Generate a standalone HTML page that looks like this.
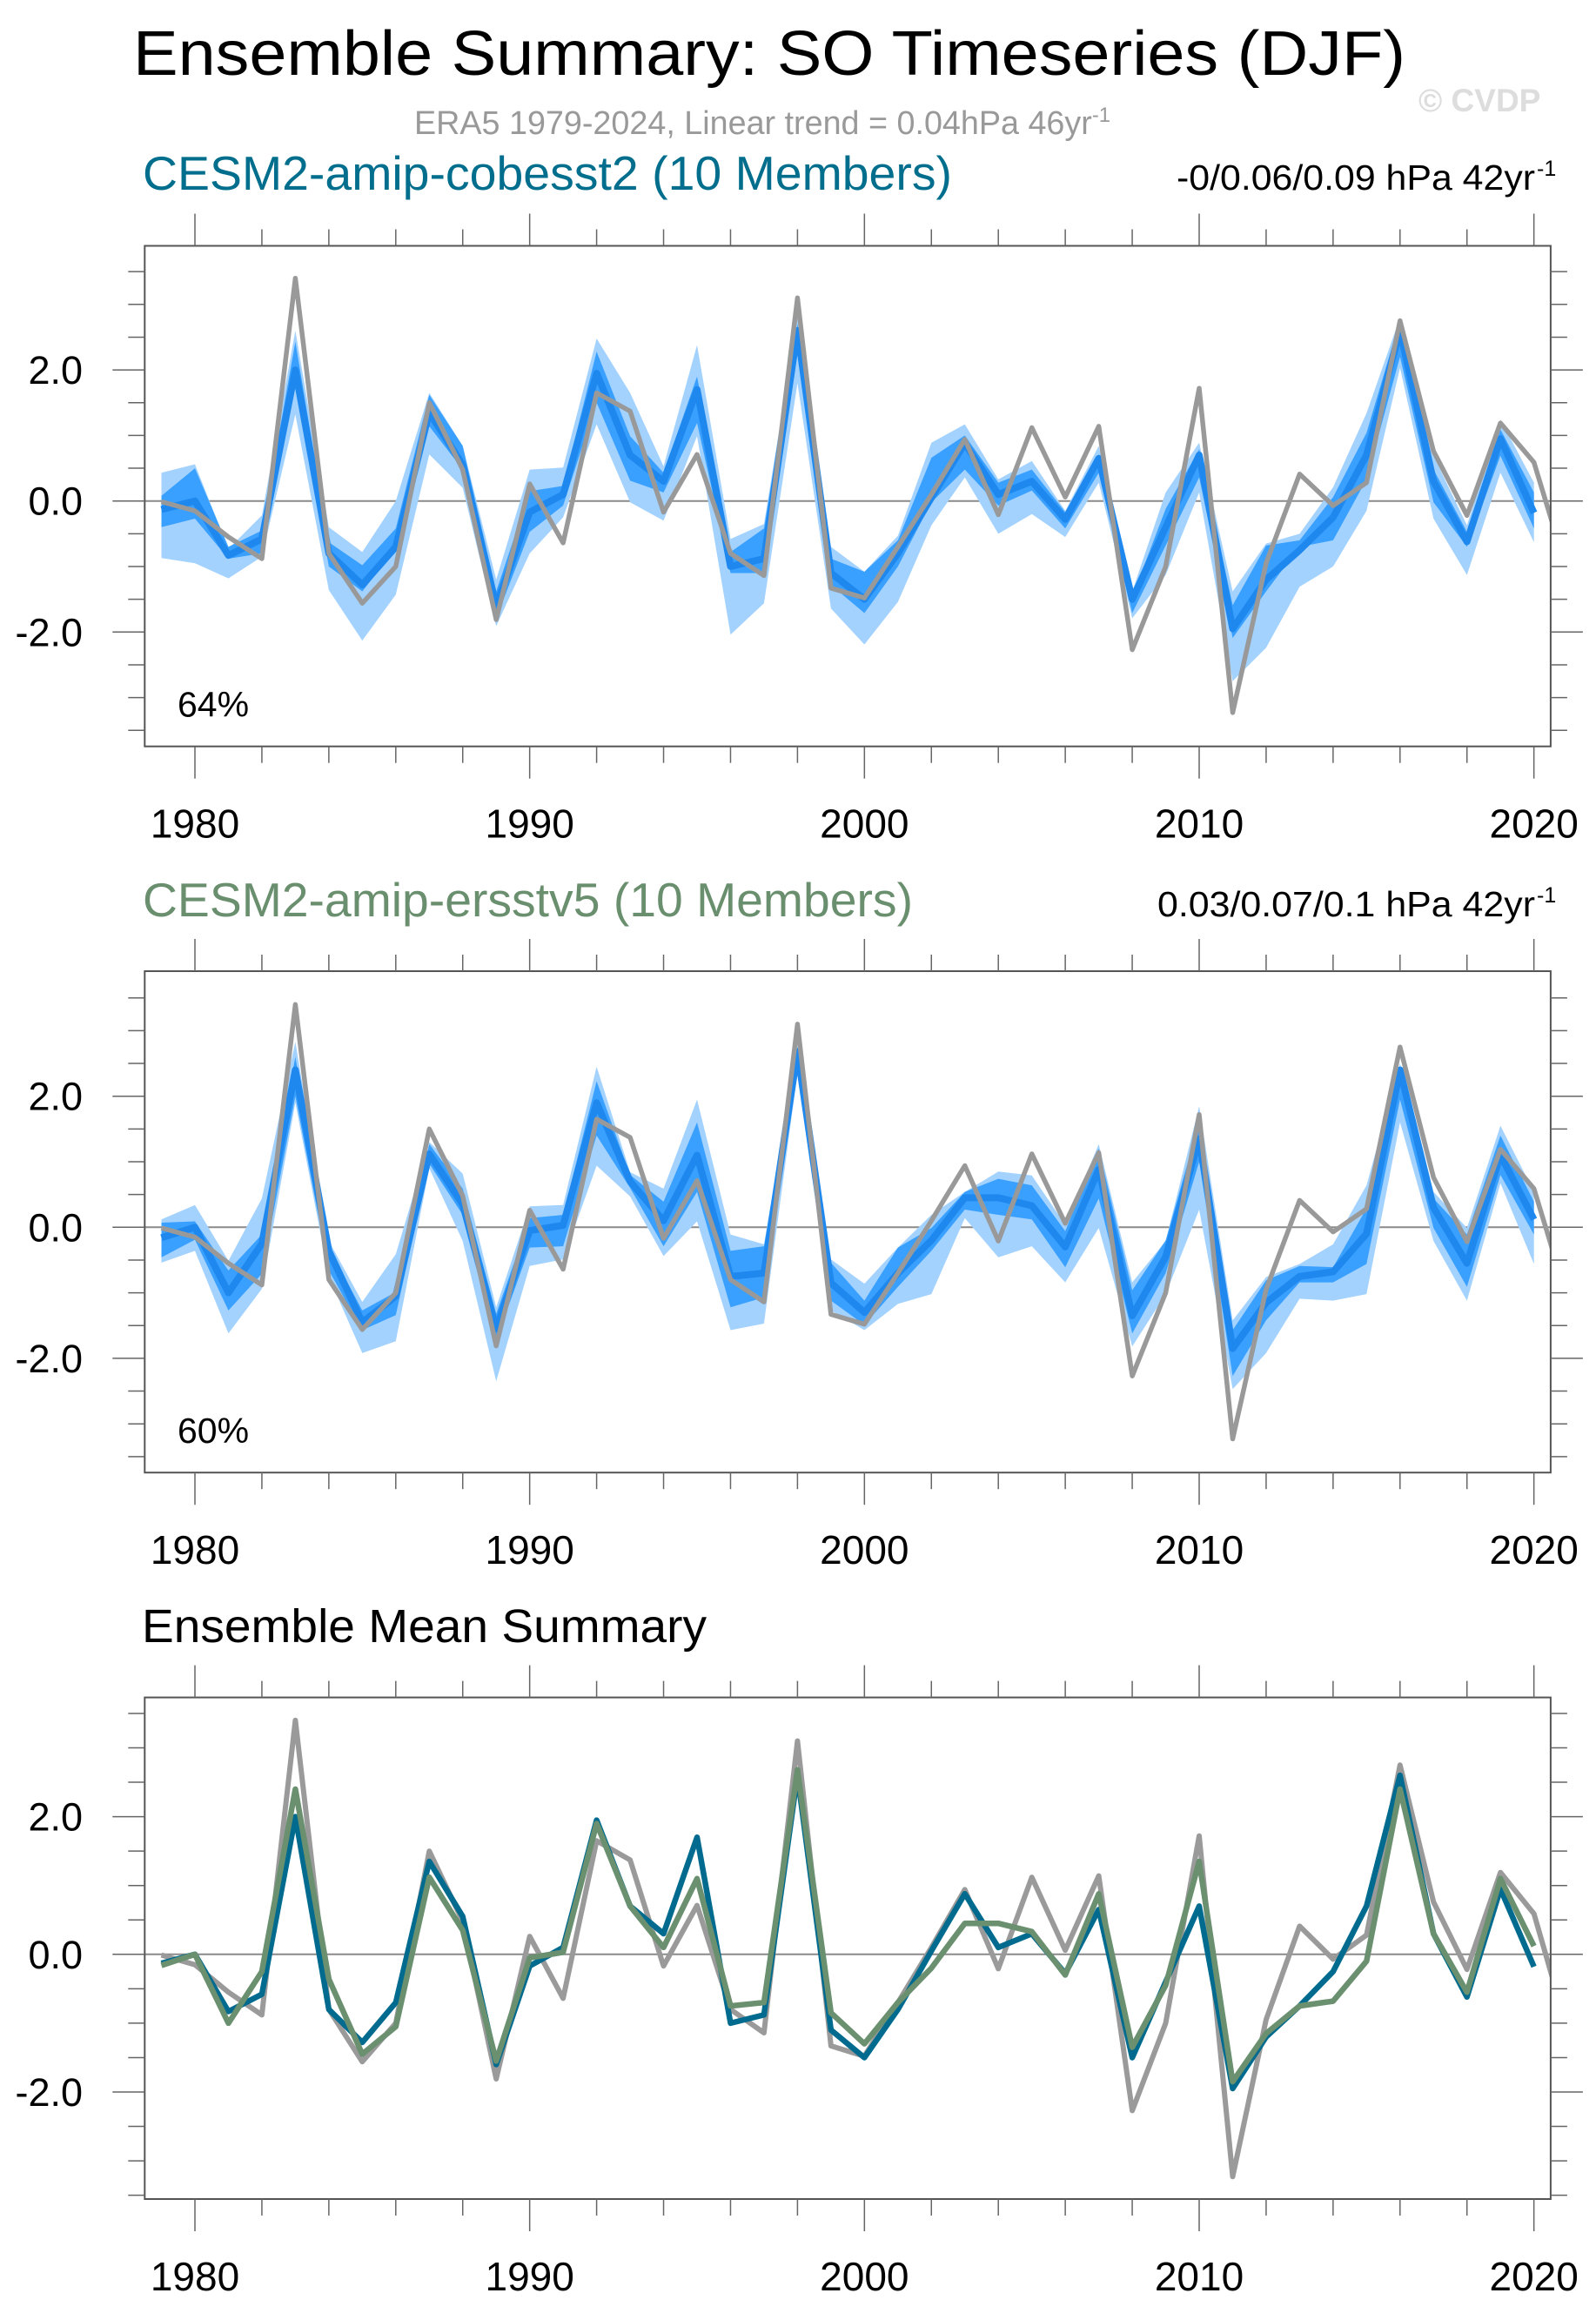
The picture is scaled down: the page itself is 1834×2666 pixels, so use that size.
<!DOCTYPE html>
<html><head><meta charset="utf-8"><style>
html,body{margin:0;padding:0;background:#fff}
svg{display:block}
text{font-family:"Liberation Sans",Arial,sans-serif}
</style></head><body>
<svg id="chart" width="1834" height="2666" viewBox="0 0 1834 2666" xmlns="http://www.w3.org/2000/svg">
<rect width="1834" height="2666" fill="#fff"/>
<text x="153" y="86" font-size="72" textLength="1462" lengthAdjust="spacingAndGlyphs">Ensemble Summary: SO Timeseries (DJF)</text>
<text x="476" y="154" font-size="38" fill="#999" textLength="800" lengthAdjust="spacingAndGlyphs">ERA5 1979-2024, Linear trend = 0.04hPa 46yr<tspan dy="-14" font-size="24">-1</tspan></text>
<text x="1630" y="128" font-size="37" font-weight="bold" fill="#ddd">© CVDP</text>

<text x="164" y="218" font-size="55" fill="#006e8c" textLength="930" lengthAdjust="spacingAndGlyphs">CESM2-amip-cobesst2 (10 Members)</text>
<text x="1352" y="218" font-size="41" textLength="412" lengthAdjust="spacingAndGlyphs">-0/0.06/0.09 hPa 42yr</text>
<text x="1766" y="202" font-size="25">-1</text>

<text x="164" y="1053" font-size="55" fill="#6a8f6e" textLength="885" lengthAdjust="spacingAndGlyphs">CESM2-amip-ersstv5 (10 Members)</text>
<text x="1330" y="1053" font-size="41" textLength="434" lengthAdjust="spacingAndGlyphs">0.03/0.07/0.1 hPa 42yr</text>
<text x="1766" y="1037" font-size="25">-1</text>

<text x="163" y="1887" font-size="54" textLength="649" lengthAdjust="spacingAndGlyphs">Ensemble Mean Summary</text>
<g id="plots"></g>
</svg>
<script>
const years = [1979,1980,1981,1982,1983,1984,1985,1986,1987,1988,1989,1990,1991,1992,1993,1994,1995,1996,1997,1998,1999,2000,2001,2002,2003,2004,2005,2006,2007,2008,2009,2010,2011,2012,2013,2014,2015,2016,2017,2018,2019,2020];
const eraYears = [1979,1980,1981,1982,1983,1984,1985,1986,1987,1988,1989,1990,1991,1992,1993,1994,1995,1996,1997,1998,1999,2000,2001,2002,2003,2004,2005,2006,2007,2008,2009,2010,2011,2012,2013,2014,2015,2016,2017,2018,2019,2020,2021];
const era5 = [-0.01,-0.15,-0.55,-0.88,3.4,-0.8,-1.56,-1.0,1.5,0.48,-1.81,0.26,-0.64,1.65,1.37,-0.17,0.71,-0.8,-1.14,3.1,-1.33,-1.48,-0.7,0.1,0.94,-0.21,1.12,0.06,1.14,-2.27,-1.0,1.72,-3.23,-0.95,0.41,-0.07,0.28,2.75,0.76,-0.22,1.19,0.59,-1.09];

const cobMean = [-0.13,0.0,-0.83,-0.58,2.0,-0.8,-1.28,-0.7,1.35,0.55,-1.6,-0.17,0.1,1.95,0.7,0.3,1.7,-1.0,-0.88,2.6,-1.1,-1.5,-0.8,0.05,0.88,0.1,0.3,-0.28,0.65,-1.5,-0.4,0.7,-1.95,-1.2,-0.75,-0.25,0.7,2.6,0.3,-0.62,0.95,-0.18];
const cobOutHi = [0.43,0.56,-0.73,-0.22,2.6,-0.4,-0.78,0.0,1.65,0.84,-1.2,0.48,0.51,2.48,1.65,0.53,2.38,-0.58,-0.35,2.8,-0.7,-1.08,-0.53,0.89,1.17,0.33,0.61,-0.15,0.84,-1.38,0.13,0.89,-1.38,-0.65,-0.5,0.21,1.34,2.8,0.69,-0.37,1.24,0.28];
const cobOutLo = [-0.87,-0.95,-1.18,-0.85,1.32,-1.36,-2.13,-1.43,0.71,0.2,-1.91,-0.8,-0.25,1.17,-0.02,-0.3,0.99,-2.04,-1.56,1.8,-1.64,-2.19,-1.54,-0.37,0.36,-0.5,-0.2,-0.55,0.28,-1.79,-1.13,0.13,-2.75,-2.24,-1.31,-1.0,-0.15,2.03,-0.27,-1.13,0.43,-0.63];
const cobInHi = [0.08,0.5,-0.7,-0.45,2.43,-0.63,-0.98,-0.42,1.62,0.84,-1.38,0.15,0.23,2.28,0.99,0.43,1.9,-0.78,-0.42,2.7,-0.88,-1.08,-0.6,0.66,1.0,0.28,0.48,-0.17,0.69,-1.46,-0.12,0.79,-1.59,-0.68,-0.6,0.06,1.04,2.76,0.48,-0.47,1.09,0.13];
const cobInLo = [-0.4,-0.27,-0.88,-0.8,1.8,-1.0,-1.38,-0.73,1.14,0.48,-1.79,-0.47,-0.07,1.5,0.31,0.13,1.19,-1.1,-1.1,2.3,-1.28,-1.71,-1.0,-0.02,0.48,-0.07,0.16,-0.42,0.43,-1.71,-0.68,0.36,-2.09,-1.38,-0.7,-0.6,0.33,2.2,-0.02,-0.7,0.69,-0.42];

const ersMean = [-0.16,0.0,-1.0,-0.25,2.4,-0.36,-1.45,-1.05,1.12,0.35,-1.55,-0.05,0.03,1.9,0.7,0.1,1.1,-0.75,-0.7,2.68,-0.85,-1.3,-0.7,-0.2,0.45,0.45,0.33,-0.3,0.88,-1.35,-0.45,1.35,-1.85,-1.15,-0.75,-0.68,-0.1,2.4,0.3,-0.55,1.1,0.12];
const ersOutHi = [0.12,0.34,-0.51,0.44,2.83,-0.21,-1.14,-0.41,1.3,0.82,-1.22,0.32,0.34,2.45,0.84,0.59,1.95,-0.11,-0.26,2.78,-0.49,-0.86,-0.31,0.19,0.54,0.85,0.79,0.04,1.27,-0.84,-0.21,1.85,-1.42,-0.76,-0.56,-0.26,0.64,2.5,0.54,-0.01,1.55,0.54];
const ersOutLo = [-0.54,-0.36,-1.62,-0.94,1.9,-0.76,-1.92,-1.74,0.9,-0.21,-2.35,-0.59,-0.49,0.94,0.47,-0.44,0.09,-1.57,-1.47,2.35,-1.27,-1.57,-1.17,-1.02,0.14,-0.46,-0.29,-0.84,-0.01,-1.82,-1.02,0.27,-2.47,-1.92,-1.09,-1.12,-1.02,1.6,-0.21,-1.12,0.67,-0.56];
const ersInHi = [0.07,0.09,-0.66,-0.11,2.6,-0.31,-1.27,-0.99,1.27,0.59,-1.32,0.14,0.19,2.23,0.8,0.39,1.6,-0.36,-0.29,2.75,-0.54,-1.12,-0.31,-0.01,0.54,0.74,0.64,-0.06,1.2,-0.96,-0.2,1.6,-1.57,-0.81,-0.59,-0.61,0.29,2.45,0.44,-0.11,1.4,0.39];
const ersInLo = [-0.46,-0.19,-1.27,-0.71,2.0,-0.66,-1.57,-1.34,0.97,0.19,-1.72,-0.31,-0.29,1.4,0.6,-0.29,0.54,-1.22,-1.07,2.4,-1.12,-1.49,-0.91,-0.36,0.27,0.19,0.12,-0.61,0.44,-1.62,-0.7,1.0,-2.27,-1.42,-0.84,-0.84,-0.56,1.95,-0.01,-0.91,0.8,-0.11];

const yTickVals = [-3.5,-3,-2.5,-2,-1.5,-1,-0.5,0,0.5,1,1.5,2,2.5,3,3.5];
const yLabelVals = [-2,0,2];
const yLabels = ["-2.0","0.0","2.0"];
const xTickYears = [1980,1982,1984,1986,1988,1990,1992,1994,1996,1998,2000,2002,2004,2006,2008,2010,2012,2014,2016,2018,2020];
const xLabelYears = [1980,1990,2000,2010,2020];
const NS = "http://www.w3.org/2000/svg";
const root = document.getElementById('plots');
const X0 = 166.3, X1 = 1781.9, YR0 = 1978.5, YR1 = 2020.5;
function xs(yr){ return X0 + (yr - YR0) * (X1 - X0) / (YR1 - YR0); }
function mk(tag, attrs, parent){
  const e = document.createElementNS(NS, tag);
  for (const k in attrs) e.setAttribute(k, attrs[k]);
  (parent || root).appendChild(e);
  return e;
}
function lineStr(xv, yv, ys){ return xv.map((v,i)=>(i?'L':'M')+xs(v).toFixed(1)+','+ys(yv[i]).toFixed(1)).join(''); }
function bandStr(xv, hi, lo, ys){
  let d = xv.map((v,i)=>(i?'L':'M')+xs(v).toFixed(1)+','+ys(hi[i]).toFixed(1)).join('');
  for (let i = xv.length-1; i >= 0; i--) d += 'L'+xs(xv[i]).toFixed(1)+','+ys(lo[i]).toFixed(1);
  return d + 'Z';
}
function panel(id, top, bottom, zero, unit, pct, drawFn){
  const ys = v => zero - v * unit;
  const g = mk('g', {});
  
  
  const cp = mk('clipPath', {id: id + '-clip'}, g);
  mk('rect', {x: X0, y: top, width: X1 - X0, height: bottom - top}, cp);
  const plot = mk('g', {'clip-path': 'url(#' + id + '-clip)'}, g);
  
  
  const zl = mk('line', {x1: X0, x2: X1, y1: ys(0), y2: ys(0), stroke: '#8a8a8a', 'stroke-width': 2}, plot);
  
  
  drawFn(plot, ys);
  const box = mk('rect', {x: X0, y: top, width: X1 - X0, height: bottom - top, fill: 'none', stroke: '#555', 'stroke-width': 2}, g);
  
  
  yTickVals.forEach(v => {
    const major = yLabelVals.indexOf(v) >= 0;
    const L = major ? 37 : 19;
    const t1 = mk('line', {x1: X0 - L, x2: X0, y1: ys(v), y2: ys(v), stroke: '#666', 'stroke-width': 1.5}, g);
    
    
    const t2 = mk('line', {x1: X1, x2: X1 + L, y1: ys(v), y2: ys(v), stroke: '#666', 'stroke-width': 1.5}, g);
    
    
  });
  yLabelVals.forEach((v,i) => {
    const t = mk('text', {x: 95, y: ys(v) + 16, 'font-size': 45, 'text-anchor': 'end'}, g);
    
    
    t.textContent = yLabels[i];
  });
  xTickYears.forEach(yr => {
    const major = xLabelYears.indexOf(yr) >= 0;
    const L = major ? 37 : 19;
    const a = mk('line', {x1: xs(yr), x2: xs(yr), y1: top - L, y2: top, stroke: '#666', 'stroke-width': 1.5}, g);
    
    
    const b = mk('line', {x1: xs(yr), x2: xs(yr), y1: bottom, y2: bottom + L, stroke: '#666', 'stroke-width': 1.5}, g);
    
    
  });
  xLabelYears.forEach(yr => {
    const t = mk('text', {x: xs(yr), y: bottom + 105, 'font-size': 46, 'text-anchor': 'middle'}, g);
    
    
    t.textContent = String(yr);
  });
  if (pct) {
    const t = mk('text', {x: 204, y: bottom - 34, 'font-size': 41}, g);
    
    
    t.textContent = pct;
  }
}
function ensemble(mean, oh, ol, ih, il){
  return (plot, ys) => {
    const b1 = mk('path', {d: bandStr(years, oh, ol, ys), fill: '#a3d2ff'}, plot);
    
    
    const b2 = mk('path', {d: bandStr(years, ih, il, ys), fill: '#3aa0ff'}, plot);
    
    
    const m = mk('path', {d: lineStr(years, mean, ys), fill: 'none', stroke: '#1e88ee', 'stroke-width': 8, 'stroke-linejoin': 'round'}, plot);
    
    
    const e = mk('path', {d: lineStr(eraYears, era5, ys), fill: 'none', stroke: '#999', 'stroke-width': 5.5, 'stroke-linejoin': 'round'}, plot);
    
    
  };
}
panel('panel-cobesst2', 282.5, 857.7, 575.7, 75.3, '64%', ensemble(cobMean, cobOutHi, cobOutLo, cobInHi, cobInLo));
panel('panel-ersstv5', 1116, 1692.2, 1410.3, 75.3, '60%', ensemble(ersMean, ersOutHi, ersOutLo, ersInHi, ersInLo));
panel('panel-ensemble-mean', 1950.6, 2527, 2245.8, 79.1, null, (plot, ys) => {
  const e = mk('path', {d: lineStr(eraYears, era5, ys), fill: 'none', stroke: '#9a9a9a', 'stroke-width': 6, 'stroke-linejoin': 'round'}, plot);
  
  
  const c = mk('path', {d: lineStr(years, cobMean, ys), fill: 'none', stroke: '#006b8e', 'stroke-width': 6.5, 'stroke-linejoin': 'round'}, plot);
  
  
  const s = mk('path', {d: lineStr(years, ersMean, ys), fill: 'none', stroke: '#6a9070', 'stroke-width': 6.5, 'stroke-linejoin': 'round'}, plot);
  
  
});
</script>
</body></html>
